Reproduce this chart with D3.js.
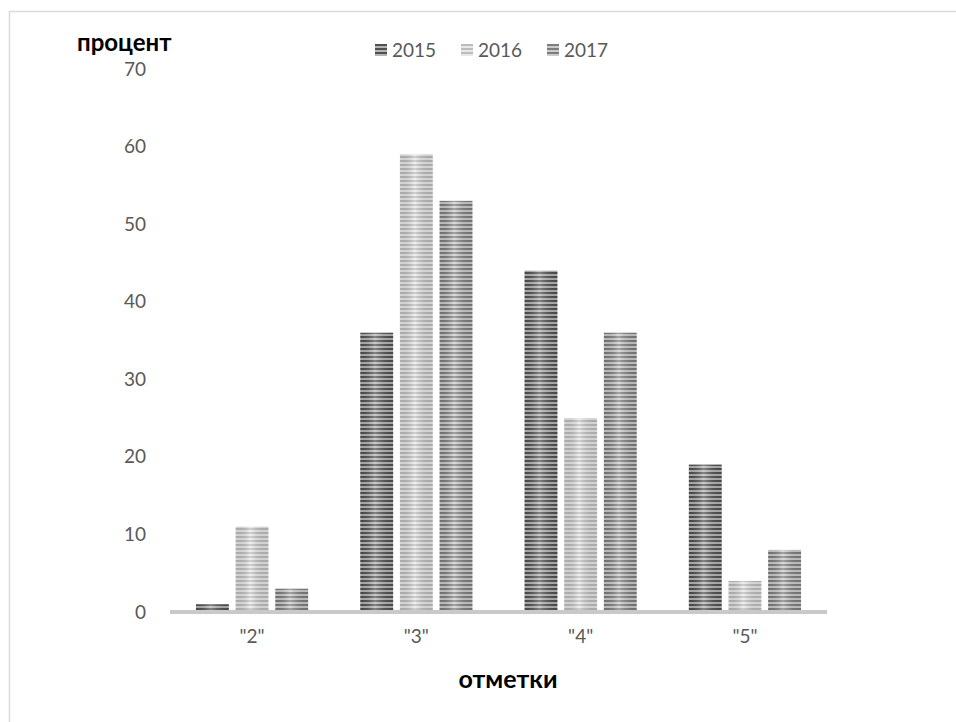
<!DOCTYPE html>
<html>
<head>
<meta charset="utf-8">
<script src="https://cdn.jsdelivr.net/npm/d3@7"></script>
<style>
  html, body { margin: 0; padding: 0; background: #fff; }
  svg { display: block; }
</style>
</head>
<body>
<svg id="chart" width="956" height="722"></svg>
<script>
// Grade distribution by year
const categories = ['"2"', '"3"', '"4"', '"5"'];
const years = ["2015", "2016", "2017"];
const values2015 = [1, 36, 44, 19];
const values2016 = [11, 59, 25, 4];
const values2017 = [3, 53, 36, 8];
const yTicks = [0, 10, 20, 30, 40, 50, 60, 70];
const yTitle = "процент";
const xTitle = "отметки";

const seriesValues = [values2015, values2016, values2017];
// striped fills: [dark stripe, light stripe]
const stripeColors = [["#4f4f4f", "#b4b4b4"], ["#bcbcbc", "#e8e8e8"], ["#7c7c7c", "#cbcbcb"]];

const svg = d3.select("#chart");
const font = "Lato, 'Open Sans', sans-serif";

const plot = { left: 170, right: 827, top: 69, bottom: 612 };

const x = d3.scaleBand().domain(categories)
  .range([plot.left, plot.right]).paddingInner(0.317).paddingOuter(0.158);
const xs = d3.scaleBand().domain(years).range([0, x.bandwidth()]).paddingInner(0.17);
const y = d3.scaleLinear().domain([0, 70]).range([plot.bottom, plot.top]);

// chart frame
svg.append("path")
  .attr("d", "M9.5,722 V11.5 H956")
  .attr("fill", "none").attr("stroke", "#d9d9d9").attr("stroke-width", 1.5);

const defs = svg.append("defs");
years.forEach((yr, i) => {
  const p = defs.append("pattern").attr("id", "stripe" + yr)
    .attr("patternUnits", "userSpaceOnUse").attr("width", 8).attr("height", 4);
  p.append("rect").attr("width", 8).attr("height", 4).attr("fill", stripeColors[i][1]);
  p.append("rect").attr("width", 8).attr("height", 2).attr("fill", stripeColors[i][0]);
});
const sheen = defs.append("linearGradient").attr("id", "sheen")
  .attr("x1", 0).attr("x2", 1).attr("y1", 0).attr("y2", 0);
sheen.append("stop").attr("offset", 0).attr("stop-color", "#000").attr("stop-opacity", 0.08);
sheen.append("stop").attr("offset", 0.45).attr("stop-color", "#fff").attr("stop-opacity", 0.3);
sheen.append("stop").attr("offset", 1).attr("stop-color", "#000").attr("stop-opacity", 0.08);

// y axis labels
const yAxis = svg.append("g").attr("transform", `translate(${plot.left},0)`)
  .call(d3.axisLeft(y).tickValues(yTicks).tickSize(0).tickPadding(24));
yAxis.select(".domain").remove();
yAxis.selectAll("text").attr("font-family", font).attr("font-size", 19).attr("fill", "#595959");

// bars
const groups = svg.append("g").selectAll("g")
  .data(categories).join("g")
  .attr("transform", c => `translate(${x(c)},0)`);

groups.each(function (c, ci) {
  const g = d3.select(this);
  years.forEach((yr, si) => {
    const v = seriesValues[si][ci];
    const attrs = sel => sel
      .attr("x", xs(yr)).attr("width", xs.bandwidth())
      .attr("y", y(v)).attr("height", y(0) - y(v));
    g.append("rect").call(attrs).attr("fill", `url(#stripe${yr})`);
    g.append("rect").call(attrs).attr("fill", "url(#sheen)");
  });
});

// category axis
svg.append("line")
  .attr("x1", plot.left).attr("x2", plot.right)
  .attr("y1", y(0)).attr("y2", y(0))
  .attr("stroke", "#c9c9c9").attr("stroke-width", 4);

const xAxis = svg.append("g").attr("transform", `translate(0,${y(0)})`)
  .call(d3.axisBottom(x).tickSize(0).tickPadding(18));
xAxis.select(".domain").remove();
xAxis.selectAll("text").attr("font-family", font).attr("font-size", 19).attr("fill", "#595959");

// axis titles
svg.append("text").attr("x", 77).attr("y", 51)
  .attr("font-family", font).attr("font-weight", "bold").attr("font-size", 24)
  .attr("fill", "#000").text(yTitle);
svg.append("text").attr("x", 508).attr("y", 688)
  .attr("text-anchor", "middle")
  .attr("font-family", font).attr("font-weight", "bold").attr("font-size", 25)
  .attr("fill", "#000").text(xTitle);

// legend
const legendX = [375, 461, 547];
const legend = svg.append("g").selectAll("g").data(years).join("g")
  .attr("transform", (d, i) => `translate(${legendX[i]},44)`);
legend.append("rect").attr("width", 12).attr("height", 12).attr("fill", d => `url(#stripe${d})`);
legend.append("text").attr("x", 17).attr("y", 13)
  .attr("font-family", font).attr("font-size", 19).attr("fill", "#595959")
  .text(d => d);
</script>
</body>
</html>
